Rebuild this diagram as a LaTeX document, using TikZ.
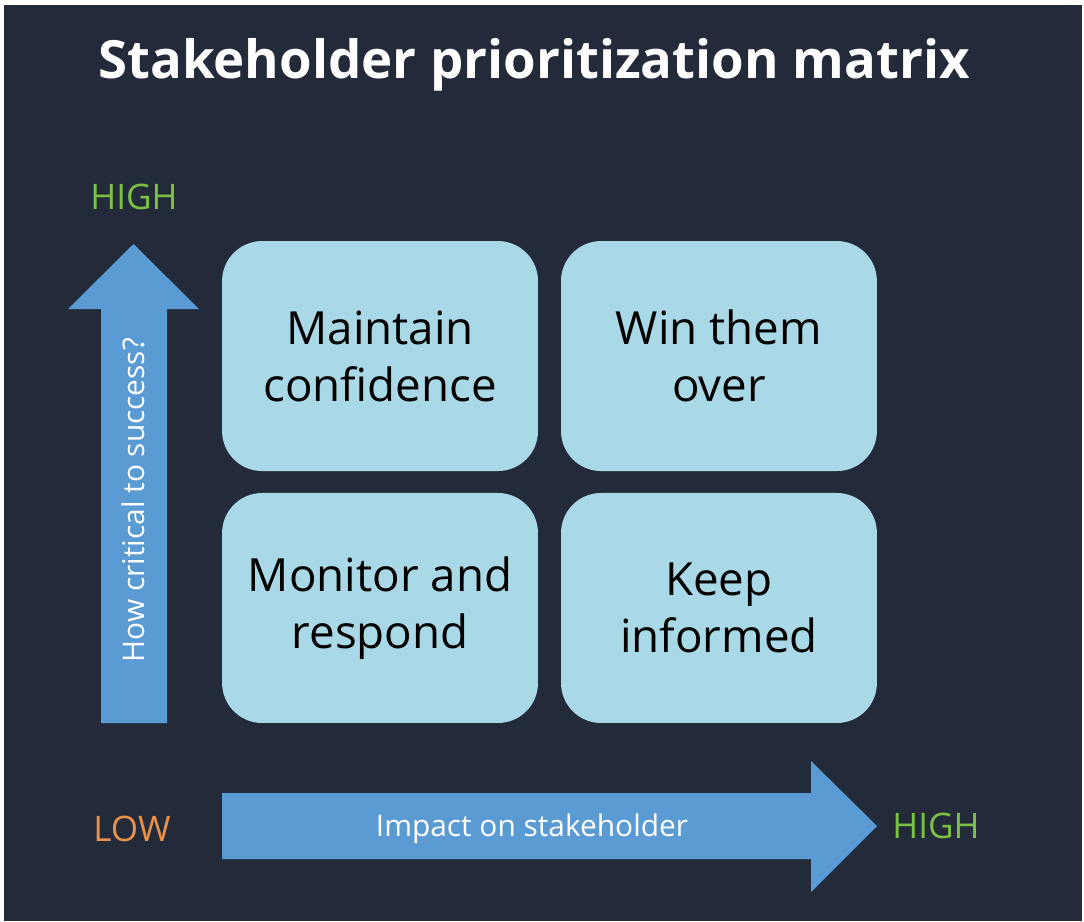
\documentclass[tikz,border=0pt]{standalone}
\usepackage{fontspec}
\setmainfont{Open Sans}
\usetikzlibrary{matrix,positioning}

\definecolor{bgdark}{HTML}{232B3B}
\definecolor{arrowblue}{HTML}{5A9BD4}
\definecolor{boxblue}{HTML}{A9D8E6}
\definecolor{highgreen}{HTML}{7DC143}
\definecolor{loworange}{HTML}{E9914A}

\begin{document}
\begin{tikzpicture}[x=0.02cm, y=-0.02cm,
	quad/.style={fill=boxblue, rounded corners=22.8pt, minimum width=179.8pt, minimum height=130.9pt, inner sep=0pt, align=center, font=\fontsize{26}{32.4}\selectfont, text=black},
	levelgreen/.style={text=highgreen, font=\fontsize{20}{24}\selectfont},
	levelorange/.style={text=loworange, font=\fontsize{20}{24}\selectfont},
	axislabel/.style={text=white, font=\fontsize{17}{20}\selectfont}]
\useasboundingbox (0,0) rectangle (1084,921);
\fill[white] (0,0) rectangle (1084,921);
\fill[bgdark] (4,5) rectangle (1082,921);

\node[anchor=base, text=white, font=\fontsize{30}{36}\selectfont\bfseries] (title) at (534,78) {Stakeholder prioritization matrix};

% the four quadrants
\matrix (m) at (549.5,482) [row sep=12.5pt, column sep=13.1pt]
{
	\node[quad] (confidence) {Maintain\\confidence}; & \node[quad] (winover) {Win them\\over}; \\
	\node[quad] (monitor) {Monitor and\\respond}; & \node[quad] (informed) {Keep\\informed}; \\
};

% axes
\fill[arrowblue] (101,723) -- (101,309) -- (68,309) -- (133.5,244) -- (199,309) -- (167,309) -- (167,723) -- cycle;
\fill[arrowblue] (222,793) -- (811,793) -- (811,761) -- (877,826) -- (811,892) -- (811,859) -- (222,859) -- cycle;

\node[axislabel, rotate=90] (critical) at (133,500) {How critical to success?};
\node[axislabel] (impact) at (532,829) {Impact on stakeholder};

\node[levelgreen] (hightop) at (134,197) {HIGH};
\node[levelorange] (low) at (132,829) {LOW};
\node[levelgreen] (highright) at (936,826) {HIGH};
\end{tikzpicture}
\end{document}
